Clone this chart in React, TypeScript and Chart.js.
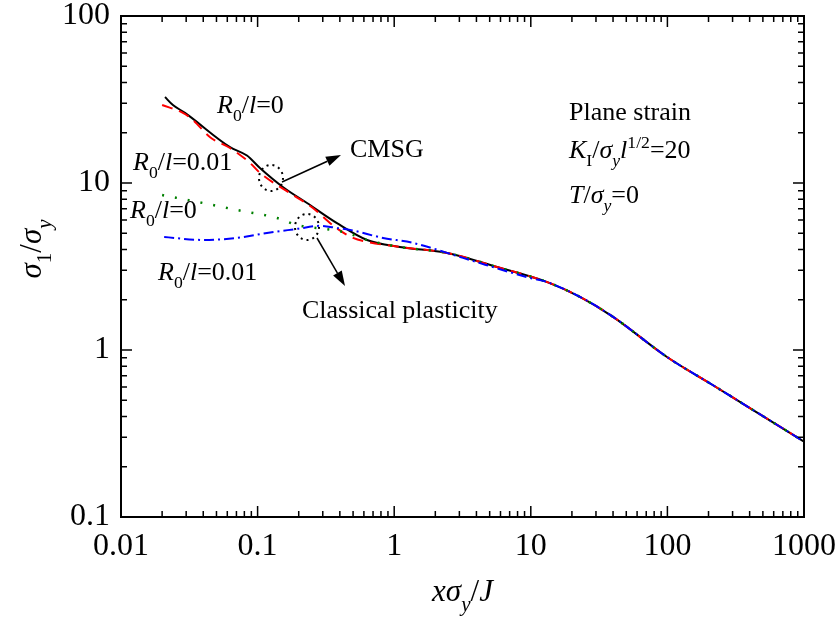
import React, { useEffect, useRef } from 'react';
import { Chart, registerables } from 'chart.js';

Chart.register(...registerables);

const FONT = '"Liberation Serif", "Times New Roman", serif';

// Tick labels (decades)
const xTickLabels = ['0.01', '0.1', '1', '10', '100', '1000'];
const yTickLabels = ['0.1', '1', '10', '100'];

// Shared far-field part of all curves
const tailX = [1.1, 2.44, 5.66, 13.2, 22.9, 40.0, 99.3, 216, 383, 1000];
const tailY = [4.14, 3.81, 3.14, 2.55, 2.08, 1.58, 0.908, 0.615, 0.46, 0.283];

// CMSG, R0/l = 0 (black solid)
const cmsg0X = [0.021, 0.024, 0.0294, 0.0628, 0.0836, 0.104, 0.153, 0.23, 0.381, 0.632];
const cmsg0Y = [32.7, 29.3, 26.3, 16.4, 14.6, 12.3, 9.47, 7.59, 5.75, 4.56];

// CMSG, R0/l = 0.01 (red dashed)
const cmsg001X = [0.02, 0.0284, 0.0337, 0.0449, 0.0628, 0.0879, 0.104, 0.182, 0.254, 0.369, 0.5, 0.632];
const cmsg001Y = [29.3, 26.3, 23.8, 18.8, 16.2, 13.2, 11.5, 8.47, 7.08, 5.45, 4.69, 4.44];

// Classical plasticity, R0/l = 0 (green dotted)
const clas0X = [0.02, 0.0398, 0.0706, 0.139, 0.194, 0.351, 0.451, 0.632];
const clas0Y = [8.47, 7.59, 6.89, 6.17, 5.61, 5.24, 5.03, 4.56];

// Classical plasticity, R0/l = 0.01 (blue dash-dot)
const clas001X = [0.0207, 0.0398, 0.0706, 0.117, 0.194, 0.286, 0.381, 0.474, 0.828, 1.37, 3.19, 9.87];
const clas001Y = [4.75, 4.56, 4.69, 5.02, 5.31, 5.54, 5.38, 5.24, 4.69, 4.38, 3.56, 2.7];

type Seg = { t: string; it?: boolean; sub?: boolean; sup?: boolean };

function pts(xs: number[], ys: number[], tailFrom: number) {
  const p = xs.map((x, i) => ({ x, y: ys[i] }));
  for (let i = 0; i < tailX.length; i++) {
    if (tailX[i] >= tailFrom) p.push({ x: tailX[i], y: tailY[i] });
  }
  return p;
}

function segFont(s: Seg, size: number) {
  const fs = s.sub || s.sup ? size * 0.68 : size;
  return `${s.it ? 'italic ' : ''}${fs}px ${FONT}`;
}

function richWidth(ctx: CanvasRenderingContext2D, segs: Seg[], size: number) {
  let w = 0;
  for (const s of segs) {
    ctx.font = segFont(s, size);
    w += ctx.measureText(s.t).width;
  }
  return w;
}

function drawRich(ctx: CanvasRenderingContext2D, x: number, y: number, segs: Seg[], size: number) {
  let cx = x;
  ctx.textBaseline = 'alphabetic';
  ctx.textAlign = 'left';
  for (const s of segs) {
    ctx.font = segFont(s, size);
    const dy = s.sub ? size * 0.32 : s.sup ? -size * 0.4 : 0;
    ctx.fillText(s.t, cx, y + dy);
    cx += ctx.measureText(s.t).width;
  }
}

function arrow(ctx: CanvasRenderingContext2D, x1: number, y1: number, x2: number, y2: number) {
  const a = Math.atan2(y2 - y1, x2 - x1);
  const L = 15, W = 5;
  ctx.save();
  ctx.strokeStyle = '#000';
  ctx.fillStyle = '#000';
  ctx.lineWidth = 1.5;
  ctx.setLineDash([]);
  ctx.beginPath();
  ctx.moveTo(x1, y1);
  ctx.lineTo(x2 - L * Math.cos(a), y2 - L * Math.sin(a));
  ctx.stroke();
  ctx.beginPath();
  ctx.moveTo(x2, y2);
  ctx.lineTo(x2 - L * Math.cos(a) + W * Math.sin(a), y2 - L * Math.sin(a) - W * Math.cos(a));
  ctx.lineTo(x2 - L * Math.cos(a) - W * Math.sin(a), y2 - L * Math.sin(a) + W * Math.cos(a));
  ctx.closePath();
  ctx.fill();
  ctx.restore();
}

function dottedEllipse(ctx: CanvasRenderingContext2D, cx: number, cy: number, rx: number, ry: number) {
  ctx.save();
  ctx.strokeStyle = '#000';
  ctx.lineWidth = 2;
  ctx.setLineDash([2, 4]);
  ctx.beginPath();
  ctx.ellipse(cx, cy, rx, ry, 0, 0, Math.PI * 2);
  ctx.stroke();
  ctx.restore();
}

const decorPlugin = {
  id: 'decor',
  afterDraw(chart: any) {
    const ctx: CanvasRenderingContext2D = chart.ctx;
    const { left, right, top, bottom } = chart.chartArea;
    const xs = chart.scales.x;
    const ys = chart.scales.y;
    ctx.save();
    // frame
    ctx.strokeStyle = '#000';
    ctx.lineWidth = 2;
    ctx.setLineDash([]);
    ctx.strokeRect(left, top, right - left, bottom - top);
    // ticks, inside, on all four sides
    ctx.lineWidth = 1.5;
    ctx.beginPath();
    for (let d = -2; d <= 3; d++) {
      for (let m = 1; m <= 9; m++) {
        const v = m * Math.pow(10, d);
        if (v < 0.01 * 0.999 || v > 1000 * 1.001) continue;
        const px = xs.getPixelForValue(v);
        const len = m === 1 ? 11 : 6;
        ctx.moveTo(px, bottom);
        ctx.lineTo(px, bottom - len);
        ctx.moveTo(px, top);
        ctx.lineTo(px, top + len);
      }
    }
    for (let d = -1; d <= 2; d++) {
      for (let m = 1; m <= 9; m++) {
        const v = m * Math.pow(10, d);
        if (v < 0.1 * 0.999 || v > 100 * 1.001) continue;
        const py = ys.getPixelForValue(v);
        const len = m === 1 ? 11 : 6;
        ctx.moveTo(left, py);
        ctx.lineTo(left + len, py);
        ctx.moveTo(right, py);
        ctx.lineTo(right - len, py);
      }
    }
    ctx.stroke();

    ctx.fillStyle = '#000';
    const S = 26;
    // annotations
    drawRich(ctx, 217, 113, [{ t: 'R', it: true }, { t: '0', sub: true }, { t: '/' }, { t: 'l', it: true }, { t: '=0' }], S);
    drawRich(ctx, 133, 170, [{ t: 'R', it: true }, { t: '0', sub: true }, { t: '/' }, { t: 'l', it: true }, { t: '=0.01' }], S);
    drawRich(ctx, 350, 157, [{ t: 'CMSG' }], S);
    drawRich(ctx, 130, 218, [{ t: 'R', it: true }, { t: '0', sub: true }, { t: '/' }, { t: 'l', it: true }, { t: '=0' }], S);
    drawRich(ctx, 158, 280, [{ t: 'R', it: true }, { t: '0', sub: true }, { t: '/' }, { t: 'l', it: true }, { t: '=0.01' }], S);
    drawRich(ctx, 302, 318, [{ t: 'Classical plasticity' }], S);
    drawRich(ctx, 569, 120, [{ t: 'Plane strain' }], S);
    drawRich(ctx, 569, 158, [
      { t: 'K', it: true }, { t: 'I', sub: true }, { t: '/' }, { t: 'σ', it: true }, { t: 'y', it: true, sub: true },
      { t: 'l', it: true }, { t: '1/2', sup: true }, { t: '=20' },
    ], S);
    drawRich(ctx, 569, 203, [{ t: 'T', it: true }, { t: '/' }, { t: 'σ', it: true }, { t: 'y', it: true, sub: true }, { t: '=0' }], S);

    dottedEllipse(ctx, 271, 178, 12, 13);
    dottedEllipse(ctx, 307, 227, 12, 13);
    arrow(ctx, 282, 182, 341, 155);
    arrow(ctx, 317, 238, 345, 286);

    // axis titles
    const T = 31;
    const xTitle: Seg[] = [{ t: 'x', it: true }, { t: 'σ', it: true }, { t: 'y', it: true, sub: true }, { t: '/' }, { t: 'J', it: true }];
    const xw = richWidth(ctx, xTitle, T);
    drawRich(ctx, (left + right) / 2 - xw / 2, 601, xTitle, T);

    const yTitle: Seg[] = [{ t: 'σ', it: true }, { t: '1', sub: true }, { t: '/' }, { t: 'σ', it: true }, { t: 'y', it: true, sub: true }];
    const yw = richWidth(ctx, yTitle, T);
    ctx.save();
    ctx.translate(41, 249);
    ctx.rotate(-Math.PI / 2);
    drawRich(ctx, -yw / 2, 0, yTitle, T);
    ctx.restore();

    ctx.restore();
  },
};

function decadeLabel(labels: string[], minExp: number) {
  return (v: any) => {
    const val = Number(v);
    const l = Math.log10(val);
    const r = Math.round(l);
    if (Math.abs(l - r) < 1e-6) return labels[r - minExp] ?? '';
    return '';
  };
}

export default function App() {
  const ref = useRef<HTMLCanvasElement | null>(null);
  useEffect(() => {
    if (!ref.current) return;
    const common = { pointRadius: 0, fill: false, cubicInterpolationMode: 'monotone' };
    const chart = new Chart(ref.current, {
      type: 'line',
      data: {
        datasets: [
          {
            ...common,
            data: pts(clas001X, clas001Y, 13),
            borderColor: '#0000ff',
            borderWidth: 2,
            borderDash: [10, 4, 2, 4],
          },
          {
            ...common,
            data: pts(clas0X, clas0Y, 1),
            borderColor: '#008000',
            borderWidth: 2.5,
            borderDash: [2, 11],
          },
          {
            ...common,
            data: pts(cmsg001X, cmsg001Y, 1),
            borderColor: '#ff0000',
            borderWidth: 2,
            borderDash: [11, 7],
          },
          {
            ...common,
            data: pts(cmsg0X, cmsg0Y, 1),
            borderColor: '#000000',
            borderWidth: 2,
          },
        ] as any,
      },
      options: {
        animation: false,
        responsive: false,
        parsing: false as any,
        layout: { padding: { top: 16, right: 31, left: 0, bottom: 0 } },
        plugins: { legend: { display: false }, tooltip: { enabled: false } },
        scales: {
          x: {
            type: 'logarithmic',
            min: 0.01,
            max: 1000,
            grid: { display: false, drawTicks: false },
            border: { display: false },
            ticks: {
              autoSkip: false,
              maxRotation: 0,
              minRotation: 0,
              padding: 10,
              color: '#000',
              font: { family: FONT, size: 32 },
              callback: decadeLabel(xTickLabels, -2),
            },
            afterFit: (s: any) => {
              s.height = 104;
              s.paddingLeft = 0;
              s.paddingRight = 0;
            },
          },
          y: {
            type: 'logarithmic',
            min: 0.1,
            max: 100,
            grid: { display: false, drawTicks: false },
            border: { display: false },
            ticks: {
              autoSkip: false,
              padding: 11,
              color: '#000',
              font: { family: FONT, size: 32 },
              callback: decadeLabel(yTickLabels, -1),
            },
            afterFit: (s: any) => {
              s.width = 121;
              s.paddingTop = 0;
              s.paddingBottom = 0;
            },
          },
        },
      } as any,
      plugins: [decorPlugin],
    });
    return () => chart.destroy();
  }, []);
  return (
    <div style={{ position: 'absolute', left: 0, top: 0, width: 835, height: 621, background: '#fff' }}>
      <canvas ref={ref} width={835} height={621} style={{ display: 'block' }} />
    </div>
  );
}
